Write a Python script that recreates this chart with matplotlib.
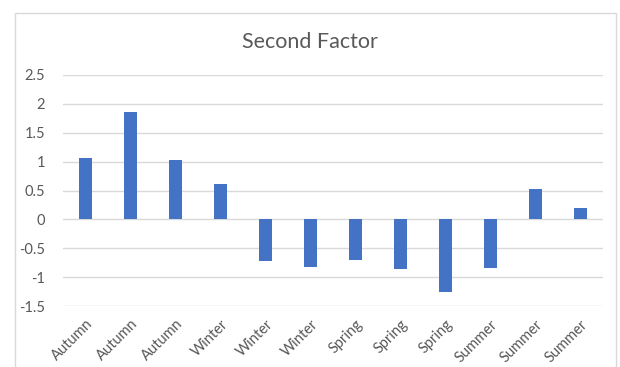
import matplotlib.pyplot as plt
from matplotlib.patches import Rectangle

# data
seasons = ["Autumn", "Autumn", "Autumn", "Winter", "Winter", "Winter",
           "Spring", "Spring", "Spring", "Summer", "Summer", "Summer"]
second_factor = [1.07, 1.86, 1.02, 0.61, -0.72, -0.83,
                 -0.71, -0.86, -1.25, -0.84, 0.52, 0.19]
y_ticks = [-1.5, -1, -0.5, 0, 0.5, 1, 1.5, 2, 2.5]
y_tick_labels = ["-1.5", "-1", "-0.5", "0", "0.5", "1", "1.5", "2", "2.5"]

plt.rcParams['font.family'] = ['Lato', 'DejaVu Sans']
text_color = '#595959'

fig = plt.figure(figsize=(6.2, 3.67), dpi=100)
# chart area border
fig.patches.append(Rectangle((15 / 620, -0.05), 601 / 620, 1 - 13 / 367 + 0.05,
                             transform=fig.transFigure, fill=False,
                             edgecolor='#D9D9D9', linewidth=1))

ax = fig.add_axes([63 / 620, 1 - 306 / 367, 540 / 620, 231 / 367])
x = range(len(seasons))
ax.bar(x, second_factor, width=0.31, color='#4472C4', zorder=3)

ax.set_xlim(-0.5, len(seasons) - 0.5)
ax.set_ylim(-1.5, 2.5)
ax.set_yticks(y_ticks)
ax.set_yticklabels(y_tick_labels)
ax.set_xticks(list(x))
ax.set_xticklabels(seasons, rotation=45, ha='right', rotation_mode='anchor')

ax.grid(axis='y', color='#D9D9D9', linewidth=1, zorder=0)
for s in ax.spines.values():
    s.set_visible(False)
ax.tick_params(axis='both', length=0, colors=text_color, labelsize=10.5)
ax.tick_params(axis='y', pad=13)
ax.tick_params(axis='x', pad=8)

fig.text(0.5, 1 - 42 / 367, "Second Factor", ha='center', va='center',
         fontsize=15.5, color=text_color)

fig.savefig("out.png", dpi=100)
